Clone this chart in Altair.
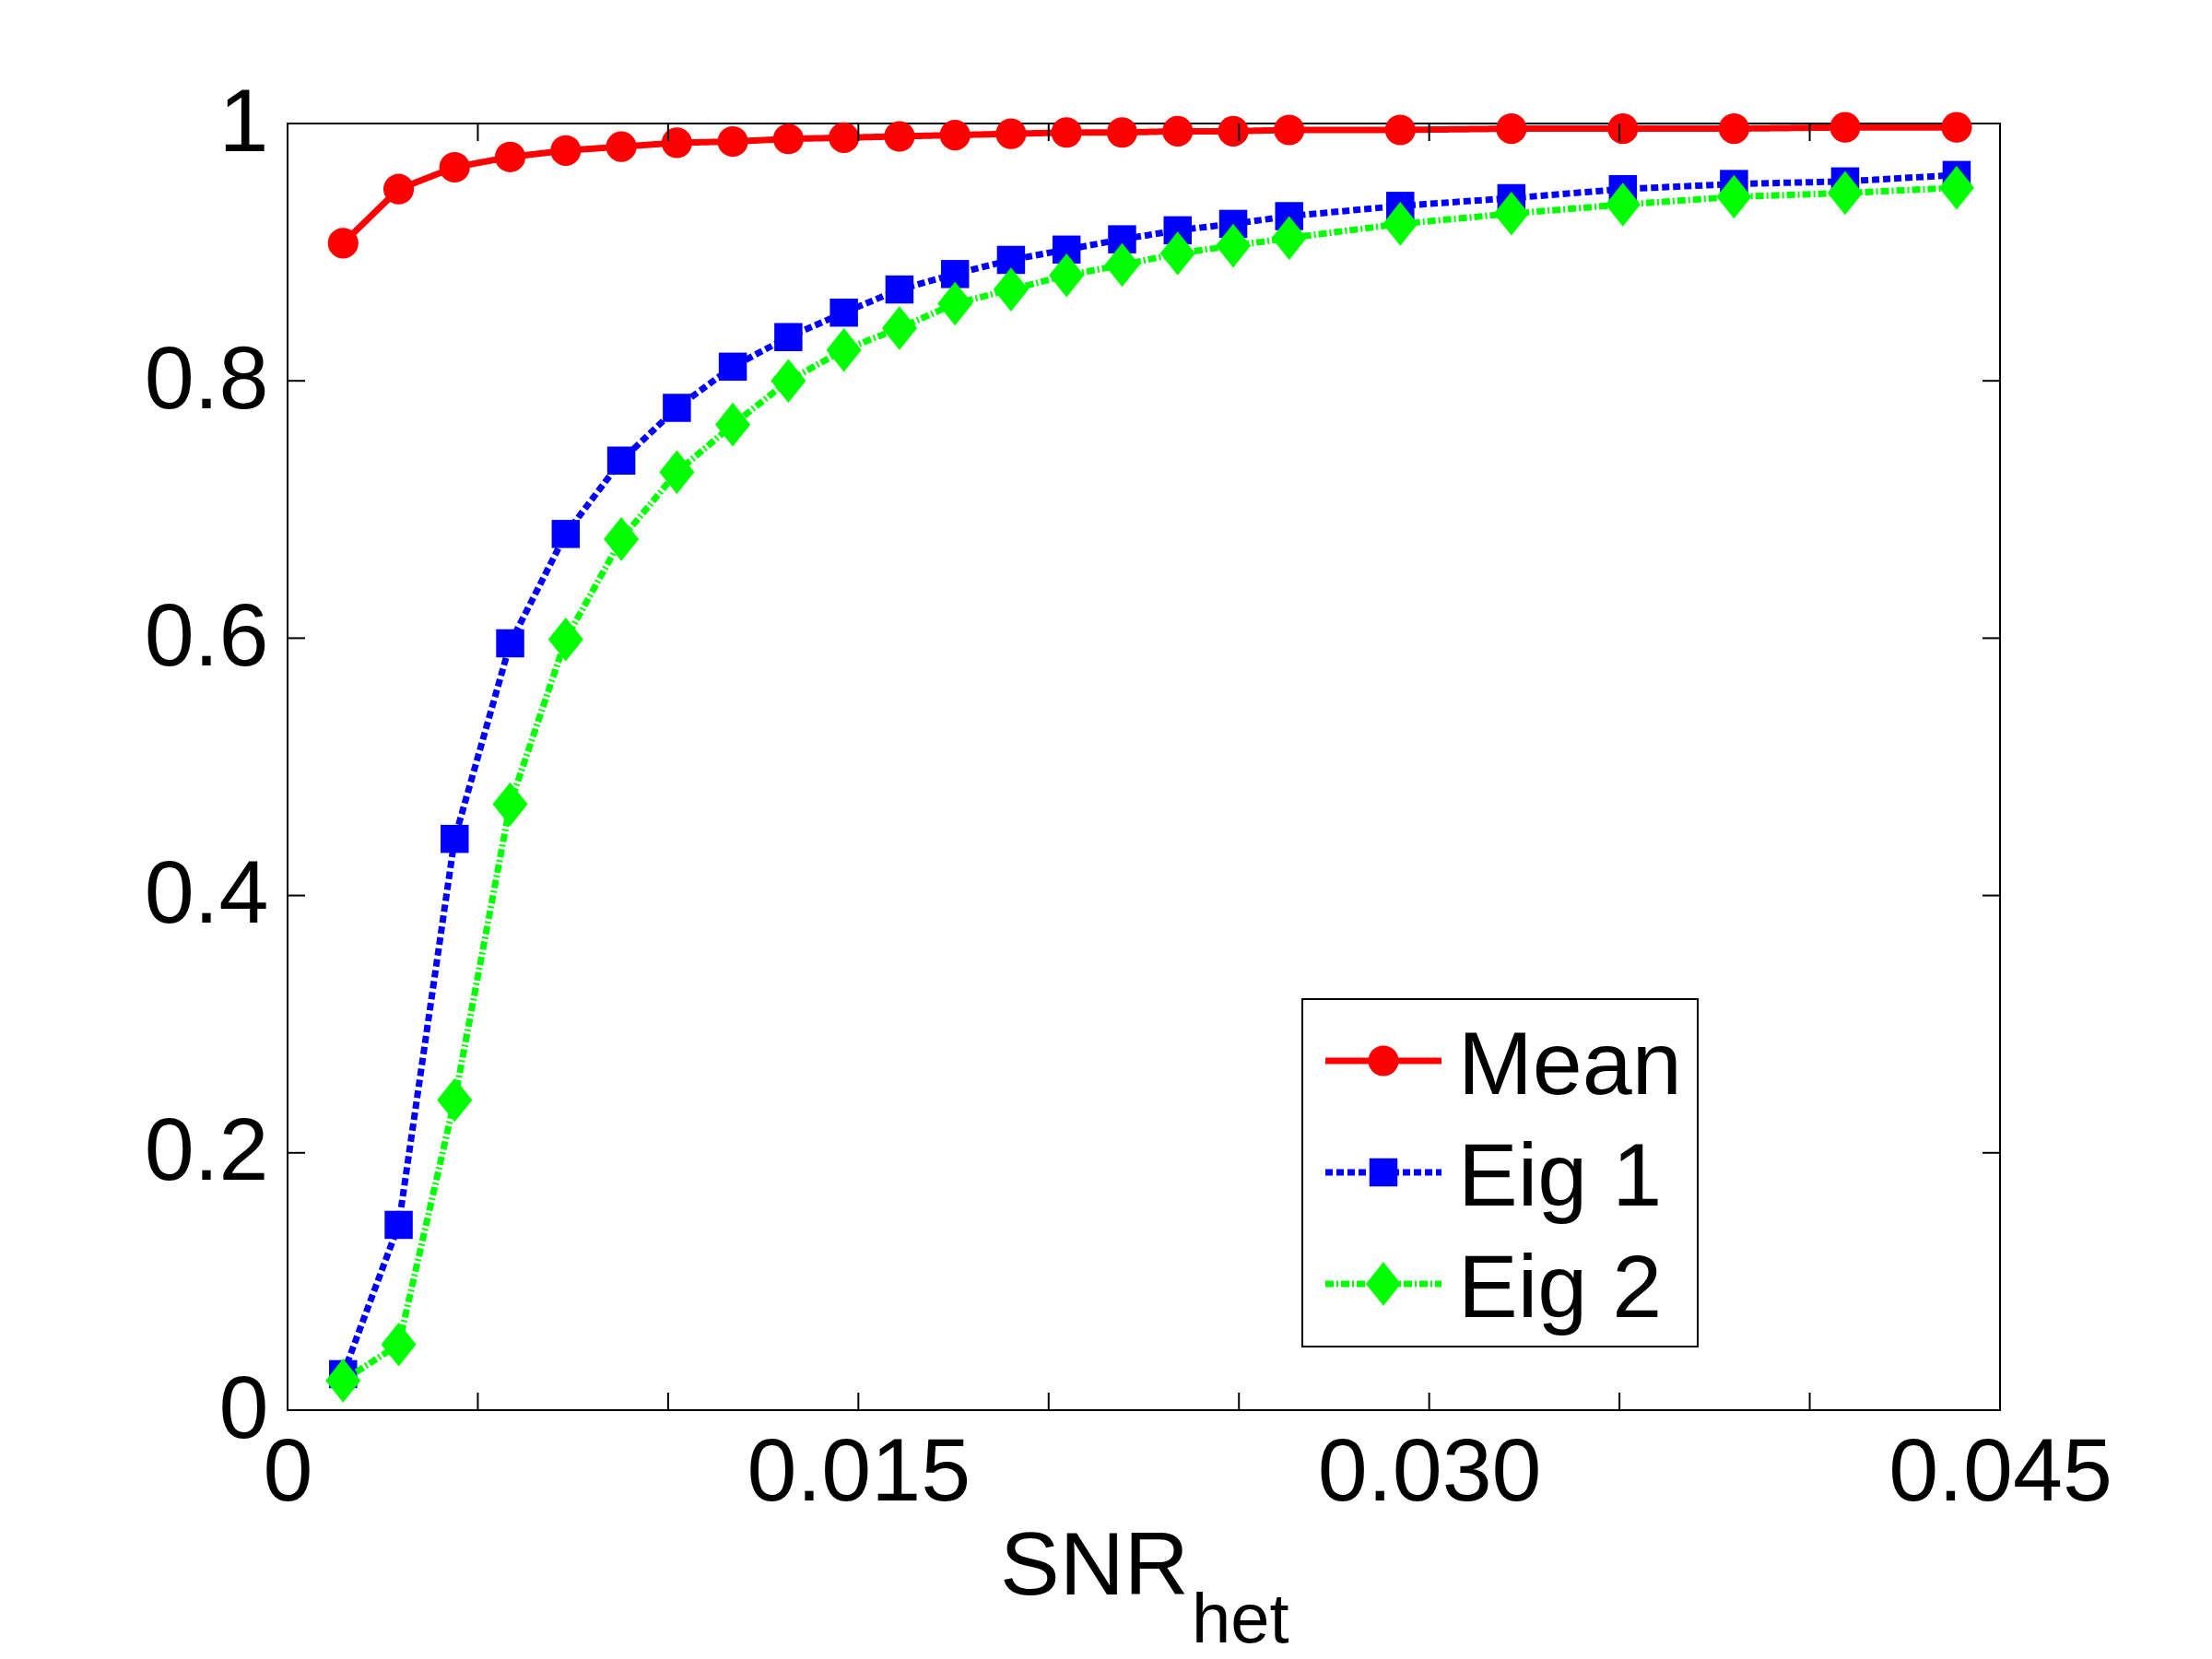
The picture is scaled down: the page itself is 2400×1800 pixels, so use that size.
import altair as alt
import pandas as pd

# ---- data ----
snr = [0.00146, 0.00292, 0.00439, 0.00585, 0.00731, 0.00877, 0.01023, 0.01170,
       0.01316, 0.01462, 0.01608, 0.01754, 0.01901, 0.02047, 0.02193, 0.02339,
       0.02485, 0.02632, 0.02924, 0.03216, 0.03509, 0.03801, 0.04093, 0.04386]
mean_vals = [0.907, 0.949, 0.966, 0.974, 0.979, 0.982, 0.985, 0.986, 0.988, 0.989,
             0.990, 0.991, 0.992, 0.993, 0.993, 0.994, 0.994, 0.995, 0.995, 0.996,
             0.996, 0.996, 0.997, 0.997]
eig1_vals = [0.028, 0.144, 0.444, 0.596, 0.681, 0.738, 0.779, 0.811, 0.834, 0.853,
             0.871, 0.883, 0.894, 0.902, 0.910, 0.917, 0.922, 0.928, 0.936, 0.942,
             0.949, 0.953, 0.955, 0.960]
eig2_vals = [0.023, 0.051, 0.241, 0.471, 0.599, 0.677, 0.729, 0.766, 0.800, 0.824,
             0.841, 0.860, 0.871, 0.882, 0.890, 0.899, 0.905, 0.911, 0.922, 0.930,
             0.937, 0.943, 0.946, 0.950]
series_names = ["Mean", "Eig 1", "Eig 2"]
x_tick_values = [0.005, 0.010, 0.015, 0.020, 0.025, 0.030, 0.035, 0.040]
x_label_values = [0, 0.015, 0.030, 0.045]
y_tick_values = [0.2, 0.4, 0.6, 0.8]
y_label_values = [0, 0.2, 0.4, 0.6, 0.8, 1]
x_title = "SNR"
x_title_sub = "het"

# ---- styling ----
W, H = 1858, 1396
FONT = "Liberation Sans"
FS = 97
TICK = 19
xs = alt.Scale(domain=[0, 0.045], nice=False, zero=False)
ys = alt.Scale(domain=[0, 1], nice=False, zero=False)

styles = [
    dict(color="#ff0000", dash=[1, 0], shape="circle", size=1100),
    dict(color="#0000ff", dash=[8, 4], shape="square", size=930),
    dict(color="#00ff00", dash=[9, 3, 2, 3], shape="M0,-1.25L1,0L0,1.25L-1,0Z", size=1450),
]
values = [mean_vals, eig1_vals, eig2_vals]

one = pd.DataFrame({"k": [0]})

x_axis = alt.Axis(values=x_label_values,
                  labelExpr="datum.value == 0 ? '0' : format(datum.value, '.3f')",
                  labelFont=FONT, labelFontSize=FS, labelColor="black", labelPadding=20,
                  labelLimit=1000,
                  ticks=False, tickSize=0, domain=False, grid=False, labelFlush=False,
                  labelOverlap=False, labelBound=False, title="")
y_axis = alt.Axis(values=y_label_values, format="~g",
                  labelFont=FONT, labelFontSize=FS, labelColor="black", labelPadding=21,
                  labelLimit=1000,
                  ticks=False, tickSize=0, domain=False, grid=False, labelFlush=False,
                  labelOverlap=False, labelBound=False, title="")


def X(field):
    return alt.X(field, scale=xs, axis=x_axis)


def Y(field):
    return alt.Y(field, scale=ys, axis=y_axis)


layers = []
for name, vals, st in zip(series_names, values, styles):
    df = pd.DataFrame({"x": snr, "y": vals, "series": name})
    line = alt.Chart(df).mark_line(color=st["color"], strokeWidth=7, strokeDash=st["dash"],
                                   strokeCap="butt", strokeJoin="round").encode(
        x=X("x:Q"), y=Y("y:Q"))
    pts = alt.Chart(df).mark_point(filled=True, shape=st["shape"], size=st["size"],
                                   color=st["color"], opacity=1, strokeWidth=0).encode(
        x=X("x:Q"), y=Y("y:Q"))
    layers += [line, pts]

# inward ticks on all four sides
xt = pd.DataFrame({"v": x_tick_values})
yt = pd.DataFrame({"v": y_tick_values})
tick_style = dict(color="black", strokeWidth=2)
layers.append(alt.Chart(xt).mark_rule(**tick_style).encode(
    x=X("v:Q"), y=alt.value(H), y2=alt.value(H - TICK)))
layers.append(alt.Chart(xt).mark_rule(**tick_style).encode(
    x=X("v:Q"), y=alt.value(0), y2=alt.value(TICK)))
layers.append(alt.Chart(yt).mark_rule(**tick_style).encode(
    y=Y("v:Q"), x=alt.value(0), x2=alt.value(TICK)))
layers.append(alt.Chart(yt).mark_rule(**tick_style).encode(
    y=Y("v:Q"), x=alt.value(W), x2=alt.value(W - TICK)))

# axis title with subscript
layers.append(alt.Chart(one).mark_text(text=x_title, font=FONT, fontSize=FS, align="left",
                                       baseline="alphabetic", color="black").encode(
    x=alt.value(773), y=alt.value(1596)))
layers.append(alt.Chart(one).mark_text(text=x_title_sub, font=FONT, fontSize=76, align="left",
                                       baseline="alphabetic", color="black").encode(
    x=alt.value(981), y=alt.value(1648)))

# legend
layers.append(alt.Chart(one).mark_rect(fill="white", stroke="black", strokeWidth=2).encode(
    x=alt.value(1101), x2=alt.value(1530), y=alt.value(950), y2=alt.value(1327)))
row_y = [1017, 1138, 1259]
for name, st, ry in zip(series_names, styles, row_y):
    layers.append(alt.Chart(one).mark_rule(color=st["color"], strokeWidth=7,
                                           strokeDash=st["dash"], strokeCap="butt").encode(
        x=alt.value(1126), x2=alt.value(1252), y=alt.value(ry)))
    layers.append(alt.Chart(one).mark_point(filled=True, shape=st["shape"], size=st["size"],
                                            color=st["color"], opacity=1, strokeWidth=0).encode(
        x=alt.value(1189), y=alt.value(ry)))
    layers.append(alt.Chart(one).mark_text(text=name, font=FONT, fontSize=FS, align="left",
                                           baseline="alphabetic", color="black").encode(
        x=alt.value(1270), y=alt.value(ry + 36)))

chart = alt.layer(*layers).properties(
    width=W, height=H,
    autosize=alt.AutoSizeParams(type="none"),
    padding={"left": 304, "top": 126, "right": 200, "bottom": 268},
).configure_view(stroke="black", strokeWidth=2)

chart.save("out.html", embed_options={"renderer": "svg", "actions": False})
